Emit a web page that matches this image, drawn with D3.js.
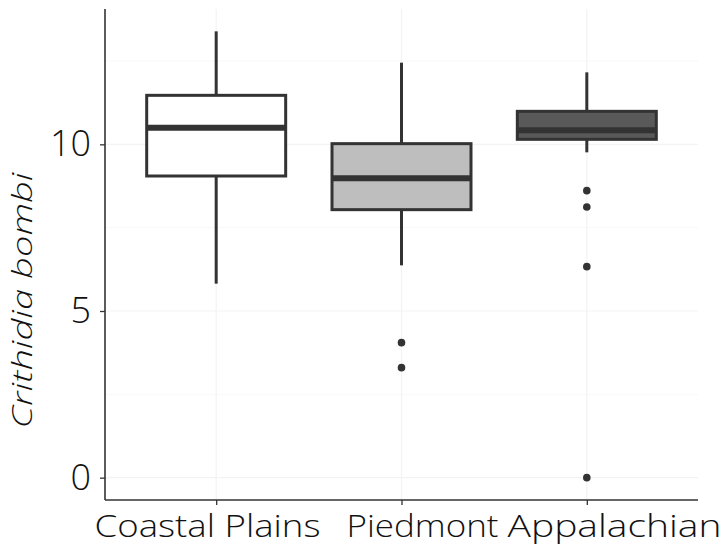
<!DOCTYPE html>
<html>
<head>
<meta charset="utf-8">
<script src="https://cdn.jsdelivr.net/npm/d3@7"></script>
<style>
  body { margin: 0; background: #fff; }
  text { font-family: "Open Sans", "Noto Sans", sans-serif; fill: #111; }
</style>
</head>
<body>
<svg id="chart" width="723" height="550"></svg>
<script>
// values
const regions = ['Coastal Plains', 'Piedmont', 'Appalachian'];
const lowerWhisker = [5.82, 6.37, 9.76];
const q1 = [9.05, 8.04, 10.15];
const medians = [10.50, 8.98, 10.42];
const q3 = [11.47, 10.02, 10.99];
const upperWhisker = [13.39, 12.45, 12.16];
const outliers = [[], [4.05, 3.30], [8.61, 8.12, 6.33, 0.0]];
const fills = ['#ffffff', '#bebebe', '#595959'];
const yTicks = [0, 5, 10];
const yMinor = [2.5, 7.5, 12.5];

const WIDTH = 723;
const HEIGHT = 550;
const PLOT = {left: 105, right: 698, top: 9, bottom: 500};
// the category labels in the reference sit a little off their ticks
const LABEL_X = [94, 346, 507];
const LABEL_W = [226, 152, 214];

const svg = d3.select('#chart');

const x = d3.scalePoint()
  .domain(regions)
  .range([PLOT.left, PLOT.right])
  .padding(0.6);
const y = d3.scaleLinear()
  .domain([-0.67, 14.06])
  .range([PLOT.bottom, PLOT.top]);

const boxWidth = x.step() * 0.75;

// faint grid
const grid = svg.append('g');
grid.selectAll('line.minor')
  .data(yMinor)
  .join('line')
  .attr('x1', PLOT.left).attr('x2', PLOT.right)
  .attr('y1', (d) => y(d)).attr('y2', (d) => y(d))
  .attr('stroke', '#f8f8f8').attr('stroke-width', 1);
grid.selectAll('line.major')
  .data(yTicks)
  .join('line')
  .attr('x1', PLOT.left).attr('x2', PLOT.right)
  .attr('y1', (d) => y(d)).attr('y2', (d) => y(d))
  .attr('stroke', '#f3f3f3').attr('stroke-width', 1.2);
grid.selectAll('line.vert')
  .data(regions)
  .join('line')
  .attr('x1', (d) => x(d)).attr('x2', (d) => x(d))
  .attr('y1', PLOT.top).attr('y2', PLOT.bottom)
  .attr('stroke', '#f3f3f3').attr('stroke-width', 1.2);

const boxes = regions.map((region, i) => ({
  region: region,
  lo: lowerWhisker[i],
  q1: q1[i],
  med: medians[i],
  q3: q3[i],
  hi: upperWhisker[i],
  out: outliers[i],
  fill: fills[i],
}));

const g = svg.append('g');
const box = g.selectAll('g.box')
  .data(boxes)
  .join('g')
  .attr('class', 'box');

// whiskers
box.append('line')
  .attr('x1', (d) => x(d.region)).attr('x2', (d) => x(d.region))
  .attr('y1', (d) => y(d.hi)).attr('y2', (d) => y(d.q3))
  .attr('stroke', '#333').attr('stroke-width', 3);
box.append('line')
  .attr('x1', (d) => x(d.region)).attr('x2', (d) => x(d.region))
  .attr('y1', (d) => y(d.q1)).attr('y2', (d) => y(d.lo))
  .attr('stroke', '#333').attr('stroke-width', 3);

box.append('rect')
  .attr('x', (d) => x(d.region) - boxWidth / 2)
  .attr('width', boxWidth)
  .attr('y', (d) => y(d.q3))
  .attr('height', (d) => y(d.q1) - y(d.q3))
  .attr('fill', (d) => d.fill)
  .attr('stroke', '#333').attr('stroke-width', 3);

box.append('line')
  .attr('x1', (d) => x(d.region) - boxWidth / 2)
  .attr('x2', (d) => x(d.region) + boxWidth / 2)
  .attr('y1', (d) => y(d.med)).attr('y2', (d) => y(d.med))
  .attr('stroke', '#333').attr('stroke-width', 6);

box.selectAll('circle')
  .data((d) => d.out.map((v) => ({region: d.region, value: v})))
  .join('circle')
  .attr('cx', (d) => x(d.region))
  .attr('cy', (d) => y(d.value))
  .attr('r', 3.8)
  .attr('fill', '#333');

// axes
const yAxis = svg.append('g')
  .attr('transform', `translate(${PLOT.left},0)`)
  .call(d3.axisLeft(y).tickValues(yTicks).tickSize(5).tickPadding(9));
const xAxis = svg.append('g')
  .attr('transform', `translate(0,${PLOT.bottom})`)
  .call(d3.axisBottom(x).tickSize(5).tickPadding(6));

[yAxis, xAxis].forEach((axis) => {
  axis.select('.domain').attr('stroke', '#333').attr('stroke-width', 1.6);
  axis.selectAll('.tick line').attr('stroke', '#333').attr('stroke-width', 1.3);
});
yAxis.select('.domain').attr('d', `M0,${PLOT.top}V${PLOT.bottom}`);
xAxis.select('.domain').attr('d', `M${PLOT.left},0H${PLOT.right}`);

yAxis.selectAll('.tick text')
  .attr('font-size', 36)
  .attr('font-weight', 300)
  .attr('font-family', '"Open Sans", sans-serif')
  .attr('fill', '#111');

xAxis.selectAll('.tick text')
  .attr('font-size', 32)
  .attr('font-weight', 300)
  .attr('font-family', '"Open Sans", sans-serif')
  .attr('fill', '#111')
  .attr('text-anchor', 'start')
  .attr('x', (d, i) => LABEL_X[i] - x(d))
  .attr('y', 37)
  .attr('dy', null)
  .attr('textLength', (d, i) => LABEL_W[i])
  .attr('lengthAdjust', 'spacingAndGlyphs');

svg.append('text')
  .attr('transform', `translate(32,${(PLOT.top + PLOT.bottom) / 2 + 46}) rotate(-90)`)
  .attr('text-anchor', 'middle')
  .attr('font-size', 27)
  .attr('font-weight', 300)
  .attr('font-style', 'italic')
  .attr('textLength', 256)
  .attr('lengthAdjust', 'spacingAndGlyphs')
  .text('Crithidia bombi');
</script>
</body>
</html>
